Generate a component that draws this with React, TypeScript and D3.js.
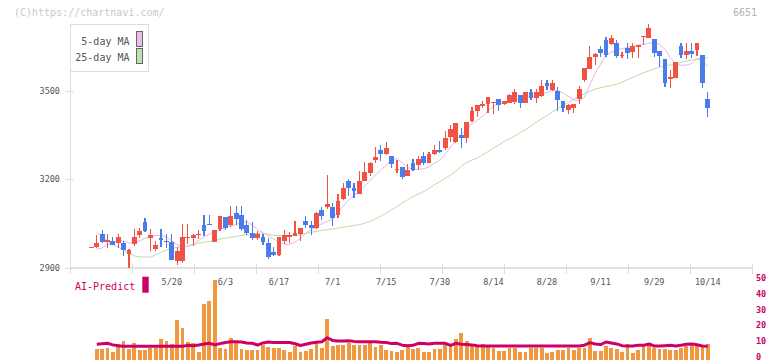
import { useEffect, useRef } from "react";
import * as d3 from "d3";

// daily candles, index 0 = 4/24 ... 115 = 10/14
const opens = [
  2970, 2971, 3016, 2987, 2992, 2983, 2986, 2949, 2980, 3010, 3055, 3001, 2964, 3000, 2993, 2988,
  2922, 2922, 3003, 3001, 3014, 3046, 3050, 2989, 3033, 3071, 3046, 3087, 3080, 3046, 3019, 3000,
  3006, 2986, 2955, 2945, 2992, 3004, 3009, 3016, 3060, 3046, 3035, 3097, 3108, 3108, 3078, 3133,
  3196, 3171, 3151, 3193, 3223, 3267, 3300, 3285, 3279, 3230, 3242, 3213, 3256, 3250, 3279, 3257,
  3285, 3300, 3307, 3345, 3328, 3350, 3339, 3399, 3432, 3449, 3454, 3460, 3472, 3454, 3460, 3461,
  3486, 3460, 3495, 3474, 3483, 3525, 3502, 3499, 3465, 3433, 3440, 3472, 3536, 3573, 3613, 3641,
  3671, 3658, 3662, 3619, 3644, 3631, 3649, 3683, 3680, 3675, 3634, 3606, 3539, 3544, 3651, 3621,
  3634, 3638, 3620, 3473,
];
const highs = [
  2972, 3012, 3029, 3015, 3006, 3016, 2990, 2965, 3032, 3035, 3069, 3032, 2990, 3032, 3015, 3016,
  2970, 3048, 3050, 3015, 3029, 3080, 3080, 3029, 3077, 3071, 3111, 3111, 3111, 3063, 3054, 3026,
  3016, 3002, 2971, 3006, 3027, 3023, 3058, 3035, 3077, 3060, 3091, 3108, 3215, 3120, 3150, 3187,
  3201, 3187, 3227, 3259, 3260, 3311, 3317, 3328, 3279, 3266, 3242, 3252, 3268, 3280, 3291, 3291,
  3317, 3330, 3362, 3385, 3392, 3375, 3393, 3446, 3452, 3465, 3480, 3462, 3472, 3466, 3489, 3506,
  3486, 3497, 3506, 3506, 3536, 3536, 3536, 3514, 3465, 3455, 3455, 3515, 3576, 3651, 3626, 3651,
  3683, 3688, 3671, 3631, 3660, 3660, 3656, 3685, 3725, 3675, 3634, 3606, 3570, 3598, 3662, 3660,
  3662, 3660, 3620, 3497,
];
const lows = [
  2969, 2967, 2984, 2967, 2979, 2967, 2939, 2895, 2973, 3001, 3021, 2956, 2956, 2970, 2967, 2926,
  2909, 2918, 2982, 2973, 2999, 3007, 3044, 2987, 3024, 3027, 3040, 3046, 3024, 3013, 2996, 2996,
  2979, 2930, 2939, 2942, 2981, 2984, 3007, 2993, 3037, 3013, 3032, 3063, 3100, 3043, 3070, 3131,
  3142, 3138, 3151, 3193, 3212, 3255, 3262, 3283, 3238, 3222, 3202, 3212, 3229, 3232, 3250, 3255,
  3282, 3288, 3300, 3328, 3322, 3305, 3324, 3395, 3412, 3443, 3423, 3420, 3432, 3452, 3457, 3454,
  3440, 3457, 3469, 3460, 3480, 3502, 3499, 3431, 3429, 3420, 3424, 3455, 3531, 3573, 3587, 3613,
  3615, 3654, 3609, 3609, 3606, 3609, 3609, 3654, 3677, 3613, 3581, 3514, 3508, 3542, 3609, 3606,
  3609, 3617, 3508, 3410,
];
const closes = [
  2971, 2986, 2987, 2996, 2979, 3006, 2960, 2960, 3006, 3026, 3026, 3012, 2979, 2994, 2988, 2928,
  2958, 3006, 3005, 3013, 3016, 3026, 3044, 3027, 3077, 3036, 3077, 3067, 3033, 3018, 3000, 3016,
  2989, 2936, 2945, 3006, 3013, 3013, 3019, 3035, 3044, 3037, 3087, 3075, 3117, 3068, 3127, 3171,
  3172, 3162, 3195, 3226, 3257, 3276, 3285, 3307, 3251, 3236, 3207, 3232, 3232, 3268, 3256, 3286,
  3300, 3293, 3340, 3372, 3390, 3339, 3393, 3431, 3452, 3455, 3477, 3462, 3453, 3465, 3486, 3495,
  3460, 3497, 3474, 3497, 3517, 3517, 3525, 3469, 3440, 3452, 3455, 3506, 3576, 3613, 3623, 3629,
  3622, 3680, 3618, 3622, 3629, 3651, 3656, 3685, 3711, 3629, 3618, 3527, 3546, 3598, 3620, 3634,
  3623, 3660, 3527, 3443,
];

// moving averages and lower panel start at index 1
const ma5 = [
  null, 2963, 2968, 2980, 2988, 2993, 2992, 2985, 2985, 2992, 3000, 3006, 3010, 3010, 3005, 2992,
  2978, 2972, 2973, 2982, 2993, 3005, 3014, 3022, 3030, 3036, 3042, 3047, 3055, 3056, 3045, 3030,
  3020, 3008, 2998, 2988, 2980, 2980, 2988, 3000, 3018, 3029, 3040, 3050, 3058, 3065, 3090, 3110,
  3130, 3145, 3160, 3178, 3197, 3214, 3232, 3248, 3268, 3270, 3256, 3240, 3234, 3234, 3236, 3242,
  3255, 3265, 3285, 3310, 3330, 3350, 3370, 3388, 3400, 3414, 3432, 3448, 3455, 3458, 3464, 3468,
  3472, 3476, 3480, 3484, 3488, 3494, 3500, 3500, 3493, 3480, 3470, 3465, 3478, 3520, 3560, 3590,
  3620, 3630, 3638, 3642, 3646, 3650, 3654, 3657, 3660, 3664, 3656, 3640, 3612, 3590, 3586, 3587,
  3592, 3608, 3600, 3582,
];
const ma25 = [
  null, 3021, 3007, 2992, 2980, 2970, 2960, 2950, 2941, 2938, 2937, 2937, 2944, 2953, 2961, 2966,
  2970, 2972, 2974, 2979, 2984, 2987, 2990, 2994, 2998, 3001, 3004, 3007, 3010, 3013, 3015, 3017,
  3018, 3014, 3010, 3010, 3010, 3010, 3010, 3013, 3017, 3021, 3024, 3027, 3030, 3032, 3035, 3038,
  3041, 3044, 3047, 3051, 3058, 3066, 3076, 3086, 3097, 3108, 3120, 3131, 3142, 3150, 3159, 3170,
  3182, 3192, 3203, 3215, 3228, 3244, 3257, 3265, 3272, 3283, 3294, 3305, 3316, 3328, 3337, 3346,
  3358, 3368, 3380, 3393, 3405, 3416, 3428, 3440, 3450, 3461, 3470, 3482, 3490, 3498, 3505, 3510,
  3514, 3518, 3522, 3529, 3537, 3545, 3553, 3561, 3567, 3573, 3580, 3584, 3587, 3590, 3596, 3600,
  3604, 3608, 3610, 3612,
];
const volume = [
  null, 11, 11, 12, 8, 16, 19, 11, 17, 10, 10, 12, 12, 21, 19, 16,
  40, 32, 18, 17, 8, 56, 59, 80, 12, 11, 22, 19, 11, 10, 10, 10,
  15, 13, 12, 12, 10, 8, 14, 8, 9, 11, 17, 12, 41, 14, 15, 15,
  17, 15, 15, 15, 19, 13, 15, 10, 9, 8, 10, 14, 11, 12, 8, 8,
  11, 11, 18, 14, 21, 27, 19, 15, 13, 16, 15, 12, 9, 9, 12, 12,
  8, 8, 12, 12, 12, 7, 8, 10, 10, 12, 10, 12, 12, 22, 9, 9,
  14, 12, 11, 8, 16, 7, 10, 14, 17, 12, 11, 11, 10, 10, 12, 14,
  14, 14, 14, 16,
];
const aiPredict = [
  null, 8.2, 8.5, 8.8, 7.8, 7.2, 7.0, 6.9, 7.0, 7.0, 6.9, 6.9, 7.0, 7.0, 7.0, 6.9,
  7.0, 7.0, 7.5, 7.3, 7.7, 8.3, 8.8, 7.8, 8.6, 9.3, 9.8, 9.8, 9.6, 9.0, 8.8, 7.7,
  9.0, 9.6, 9.3, 9.3, 9.3, 9.3, 8.5, 7.4, 8.2, 9.0, 9.5, 9.8, 12.3, 10.6, 10.2, 10.2,
  10.4, 10.0, 9.8, 9.8, 9.8, 9.8, 9.5, 9.3, 8.6, 8.8, 7.6, 7.3, 7.5, 8.8, 8.6, 8.4,
  8.8, 8.8, 8.8, 7.5, 8.8, 8.2, 8.0, 7.8, 7.3, 7.1, 7.1, 7.1, 7.1, 7.1, 7.1, 7.1,
  7.1, 7.1, 7.1, 7.1, 7.1, 7.1, 7.1, 7.1, 7.1, 7.1, 7.1, 7.1, 7.6, 9.2, 8.4, 8.0,
  9.6, 9.0, 8.4, 7.3, 7.1, 7.1, 7.5, 7.5, 8.4, 7.1, 7.1, 7.3, 7.5, 7.1, 7.6, 8.2,
  8.4, 7.9, 7.1, 6.9,
];

const dateLabels = ["5/20", "6/3", "6/17", "7/1", "7/15", "7/30", "8/14", "8/28", "9/11", "9/29", "10/14"];
const dateIndex = [15, 25, 35, 45, 55, 65, 75, 85, 95, 105, 115];
const priceTicks = [2900, 3200, 3500];
const aiTicks = [0, 10, 20, 30, 40, 50];

const UP = "#f25243";
const DOWN = "#4a7de9";
const MONO = "'DejaVu Sans Mono', 'Liberation Mono', monospace";

const App = () => {
  const svgRef = useRef<SVGSVGElement | null>(null);

  useEffect(() => {
    const svg = d3.select(svgRef.current);
    svg.selectAll("*").remove();

    const width = 772;
    const height = 361;
    const left = 70;
    const right = 752;
    const top = 24;
    const bottom = 268;

    svg.attr("width", width).attr("height", height);

    const x = d3.scaleLinear().domain([0, 115]).range([91.4, 707.8]);
    const gridX = d3.scaleLinear().domain([0, 11]).range([left, right]);
    const y = d3.scaleLinear().domain([2900, 3500]).range([bottom, 90.7]);
    const yVol = d3.scaleLinear().domain([0, 80]).range([359.5, 279.5]);
    const yAi = d3.scaleLinear().domain([0, 50]).range([357.3, 277.7]);

    svg.append("defs")
      .append("clipPath")
      .attr("id", "plot")
      .append("rect")
      .attr("x", left)
      .attr("y", top - 4)
      .attr("width", right - left)
      .attr("height", bottom - top + 4);

    // copyright + code
    svg.append("text")
      .attr("x", 14).attr("y", 16)
      .style("font-family", MONO).style("font-size", "10px")
      .attr("fill", "#c8c8c8")
      .text("(C)https://chartnavi.com/");
    svg.append("text")
      .attr("x", 757).attr("y", 16)
      .attr("text-anchor", "end")
      .style("font-family", MONO).style("font-size", "10px")
      .attr("fill", "#b4b4b4")
      .text("6651");

    // axes
    svg.append("line")
      .attr("x1", left + 0.5).attr("x2", left + 0.5)
      .attr("y1", top).attr("y2", bottom + 6)
      .attr("stroke", "#dcdcdc");
    svg.append("line")
      .attr("x1", left).attr("x2", right)
      .attr("y1", bottom).attr("y2", bottom)
      .attr("stroke", "#e0e0e0").attr("stroke-width", 2);
    svg.append("g")
      .selectAll("line")
      .data(d3.range(1, 12))
      .enter()
      .append("line")
      .attr("x1", (d) => Math.round(gridX(d)) + 0.5)
      .attr("x2", (d) => Math.round(gridX(d)) + 0.5)
      .attr("y1", bottom - 4).attr("y2", bottom + 6)
      .attr("stroke", "#dcdcdc");

    const yTickG = svg.append("g");
    priceTicks.forEach((t) => {
      yTickG.append("line")
        .attr("x1", left - 5).attr("x2", left + 4)
        .attr("y1", Math.round(y(t)) + 0.5).attr("y2", Math.round(y(t)) + 0.5)
        .attr("stroke", "#dcdcdc");
      yTickG.append("text")
        .attr("x", 60).attr("y", y(t) + 3)
        .attr("text-anchor", "end")
        .style("font-family", MONO).style("font-size", "8.5px")
        .attr("fill", "#555")
        .text(t);
    });

    svg.append("g")
      .selectAll("text")
      .data(dateLabels)
      .enter()
      .append("text")
      .attr("x", (_d, k) => x(dateIndex[k]))
      .attr("y", 285)
      .attr("text-anchor", "middle")
      .style("font-family", MONO).style("font-size", "8.5px")
      .attr("fill", "#555")
      .text((d) => d);

    // moving averages
    const plot = svg.append("g").attr("clip-path", "url(#plot)");
    const maLine = d3.line<number | null>()
      .defined((d) => d != null)
      .x((_d, i) => x(i))
      .y((d) => y(d as number));
    plot.append("path").datum(ma25)
      .attr("fill", "none").attr("stroke", "#b9dea8").attr("stroke-width", 1)
      .attr("d", maLine);
    plot.append("path").datum(ma5)
      .attr("fill", "none").attr("stroke", "#e6b6ea").attr("stroke-width", 1)
      .attr("d", maLine);

    // candles
    const idx = d3.range(opens.length);
    const bw = 4.8;
    const candles = plot.append("g").attr("shape-rendering", "crispEdges");
    candles.selectAll("line")
      .data(idx)
      .enter()
      .append("line")
      .attr("x1", (i) => x(i)).attr("x2", (i) => x(i))
      .attr("y1", (i) => y(highs[i])).attr("y2", (i) => y(lows[i]))
      .attr("stroke", (i) => (closes[i] >= opens[i] ? UP : DOWN))
      .attr("stroke-width", 1.2);
    candles.selectAll("rect")
      .data(idx)
      .enter()
      .append("rect")
      .attr("x", (i) => x(i) - bw / 2)
      .attr("width", bw)
      .attr("y", (i) => y(Math.max(opens[i], closes[i])))
      .attr("height", (i) => Math.max(1.2, Math.abs(y(opens[i]) - y(closes[i]))))
      .attr("fill", (i) => (closes[i] >= opens[i] ? UP : DOWN));

    // legend
    const lg = svg.append("g");
    lg.append("rect")
      .attr("x", left + 0.5).attr("y", top + 0.5)
      .attr("width", 78).attr("height", 47)
      .attr("fill", "#fff").attr("stroke", "#dcdcdc");
    const legendItems = [
      { label: "5-day MA", color: "#ecbaec" },
      { label: "25-day MA", color: "#bfe0b2" },
    ];
    legendItems.forEach((it, k) => {
      lg.append("text")
        .attr("x", 129.5).attr("y", 44.5 + k * 16)
        .attr("text-anchor", "end")
        .style("font-family", MONO).style("font-size", "10px")
        .attr("fill", "#555")
        .text(it.label);
      lg.append("rect")
        .attr("x", 136.5).attr("y", 31.5 + k * 17)
        .attr("width", 6).attr("height", 15)
        .attr("fill", it.color).attr("stroke", "#666");
    });

    // lower panel: volume bars + AI-Predict
    const vIdx = idx.filter((i) => volume[i] != null);
    svg.append("g")
      .attr("shape-rendering", "crispEdges")
      .selectAll("rect")
      .data(vIdx)
      .enter()
      .append("rect")
      .attr("x", (i) => x(i) - 1.9)
      .attr("width", 3.8)
      .attr("y", (i) => yVol(volume[i] as number))
      .attr("height", (i) => yVol(0) - yVol(volume[i] as number))
      .attr("fill", "#f0973f");

    const aiLine = d3.line<number | null>()
      .defined((d) => d != null)
      .x((_d, i) => x(i))
      .y((d) => yAi(d as number));
    svg.append("path").datum(aiPredict)
      .attr("fill", "none").attr("stroke", "#cc0066").attr("stroke-width", 3)
      .attr("stroke-linejoin", "round")
      .attr("d", aiLine);

    svg.append("text")
      .attr("x", 75).attr("y", 289.5)
      .style("font-family", MONO).style("font-size", "10px")
      .attr("fill", "#cc0066")
      .text("AI-Predict");
    svg.append("rect")
      .attr("x", 142.3).attr("y", 276.7)
      .attr("width", 6.4).attr("height", 16)
      .attr("fill", "#cc0066");

    svg.append("g")
      .selectAll("text")
      .data(aiTicks)
      .enter()
      .append("text")
      .attr("x", 756).attr("y", (d) => yAi(d) + 3)
      .style("font-family", MONO).style("font-size", "8.5px")
      .style("font-weight", "bold")
      .attr("fill", "#cc0066")
      .text((d) => d);
  }, []);

  return <svg ref={svgRef} style={{ position: "absolute", left: 0, top: 0 }} />;
};

export default App;
